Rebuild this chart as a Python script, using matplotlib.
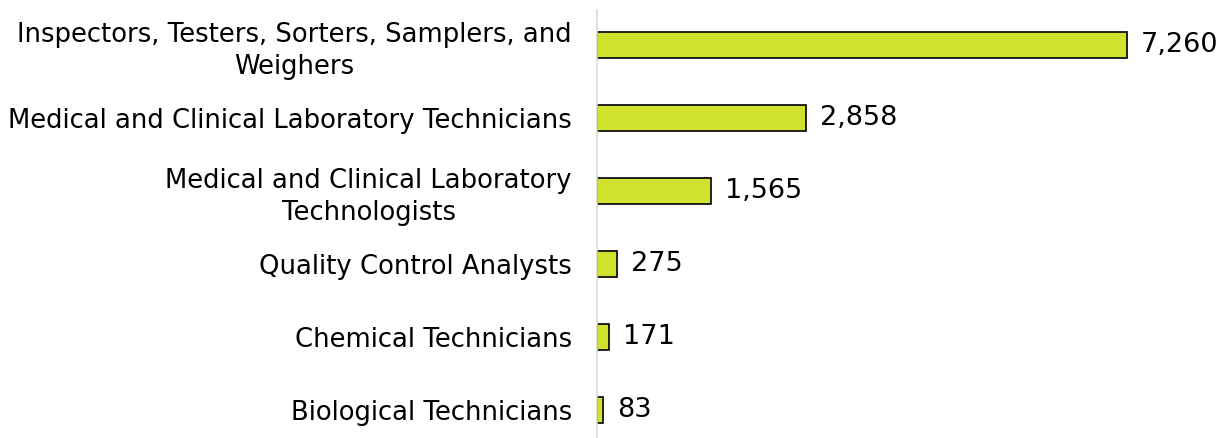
import matplotlib.pyplot as plt

# occupations and counts, top to bottom
occupations = [
    "Inspectors, Testers, Sorters, Samplers, and\nWeighers",
    "Medical and Clinical Laboratory Technicians",
    "Medical and Clinical Laboratory\nTechnologists",
    "Quality Control Analysts",
    "Chemical Technicians",
    "Biological Technicians",
]
counts = [7260, 2858, 1565, 275, 171, 83]

BAR_COLOR = "#d0e22e"

fig = plt.figure(figsize=(12.19, 4.38), dpi=100)
ax = fig.add_axes([597 / 1219, 0, (1219 - 597) / 1219, 428 / 438])

pos = list(range(len(counts)))
bars = ax.barh(pos, counts, height=0.36, color=BAR_COLOR, edgecolor="black", linewidth=1.2)

ax.set_ylim(5.384, -0.479)
ax.set_xlim(0, 622 / 0.073)

ax.set_yticks(pos)
ax.set_yticklabels(occupations, fontsize=18.6, family="DejaVu Sans")
for lbl in ax.get_yticklabels():
    lbl.set_multialignment("center")
    lbl.set_linespacing(1.3)
ax.tick_params(axis="y", length=0, pad=18)
ax.set_xticks([])

for b, v in zip(bars, counts):
    ax.text(b.get_width() + 190, b.get_y() + b.get_height() / 2, f"{v:,}",
            va="center", ha="left", fontsize=19.5, family="DejaVu Sans")

for side in ["top", "right", "bottom"]:
    ax.spines[side].set_visible(False)
ax.spines["left"].set_color("#d9d9d9")
ax.spines["left"].set_linewidth(1.2)

fig.savefig("out.png", dpi=100)
